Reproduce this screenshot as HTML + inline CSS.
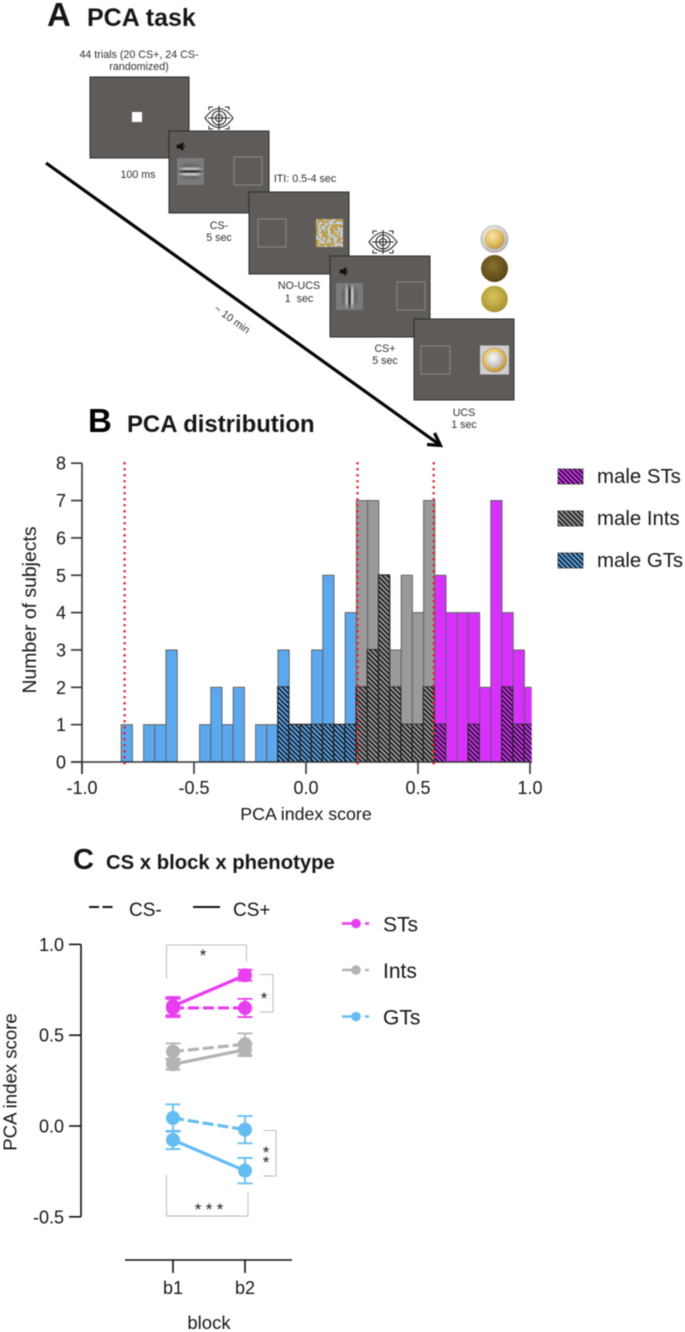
<!DOCTYPE html>
<html lang="en">
<head>
<meta charset="utf-8">
<title>PCA task, distribution and CS x block x phenotype</title>
<style>
html,body{margin:0;padding:0;background:#fff;}
body{width:685px;height:1332px;overflow:hidden;}
svg{display:block;font-family:"Liberation Sans",Arial,sans-serif;filter:blur(0.4px);}
.small{font-size:10.700px;fill:#2e2e2e;text-anchor:middle;}
.title{font-weight:bold;fill:#161616;}
.lab{font-size:18px;fill:#161616;}
.screen{fill:#5f5b58;stroke:#2e2e2e;stroke-width:1;}
.box{fill:none;stroke:#8b8784;stroke-width:1;}
.eye{fill:none;stroke:#2b2b2b;stroke-width:1.1;}
.brk{fill:none;stroke:#bdbdbd;stroke-width:1;}
</style>
</head>
<body>
<svg id="fig" width="685" height="1332" viewBox="0 0 685 1332" xmlns="http://www.w3.org/2000/svg">
<defs>
  <pattern id="hatch" patternUnits="userSpaceOnUse" width="3.4" height="3.4" patternTransform="rotate(45)">
    <rect x="0" y="0" width="3.4" height="1.500" fill="#111"/>
  </pattern>
  <linearGradient id="stripeH" x1="0" y1="0" x2="0" y2="1">
    <stop offset="0.14" stop-color="#7b7b7b"/><stop offset="0.3" stop-color="#5f5f5f"/><stop offset="0.41" stop-color="#d4d4d4"/>
    <stop offset="0.5" stop-color="#0c0c0c"/><stop offset="0.59" stop-color="#e0e0e0"/><stop offset="0.7" stop-color="#5f5f5f"/><stop offset="0.86" stop-color="#7b7b7b"/>
  </linearGradient>
  <linearGradient id="stripeV" x1="0" y1="0" x2="1" y2="0">
    <stop offset="0.14" stop-color="#7b7b7b"/><stop offset="0.3" stop-color="#5f5f5f"/><stop offset="0.41" stop-color="#d4d4d4"/>
    <stop offset="0.5" stop-color="#0c0c0c"/><stop offset="0.59" stop-color="#e0e0e0"/><stop offset="0.7" stop-color="#5f5f5f"/><stop offset="0.86" stop-color="#7b7b7b"/>
  </linearGradient>
  <radialGradient id="softEdge" cx="0.5" cy="0.5" r="0.5"><stop offset="0.45" stop-color="#fff"/><stop offset="1" stop-color="#000"/></radialGradient>
  <mask id="gaborMask" maskContentUnits="objectBoundingBox" x="0" y="0" width="1" height="1"><rect x="0" y="0" width="1" height="1" fill="url(#softEdge)"/></mask>
  <radialGradient id="silverCoin" cx="0.4" cy="0.35" r="0.7"><stop offset="0" stop-color="#fbfbfb"/><stop offset="1" stop-color="#b5b5b5"/></radialGradient>
  <radialGradient id="goldCoin" cx="0.4" cy="0.35" r="0.75"><stop offset="0" stop-color="#fbe7a4"/><stop offset="0.6" stop-color="#deb85c"/><stop offset="1" stop-color="#b0862f"/></radialGradient>
  <radialGradient id="bronzeCoin" cx="0.45" cy="0.4" r="0.7"><stop offset="0" stop-color="#8a7030"/><stop offset="0.8" stop-color="#5c4815"/><stop offset="1" stop-color="#3b2e0c"/></radialGradient>
  <radialGradient id="brassCoin" cx="0.45" cy="0.4" r="0.7"><stop offset="0" stop-color="#d8c45e"/><stop offset="0.8" stop-color="#ad962f"/><stop offset="1" stop-color="#73621a"/></radialGradient>
  <filter id="marble" x="0" y="0" width="1" height="1" color-interpolation-filters="sRGB">
    <feTurbulence type="fractalNoise" baseFrequency="0.32" numOctaves="2" seed="4" result="n"/>
    <feColorMatrix in="n" type="matrix" values="0 0 0 0 0.76  0 0 0 0 0.60  0 0 0 0 0.22  9 0 0 0 -3.900"/>
  </filter>
  <clipPath id="histClip"><rect x="82" y="440" width="449.7" height="322"/></clipPath>
</defs>

<!-- Panel A -->
<g>
  <text x="47" y="26" class="title" font-size="33">A</text>
  <text x="87" y="26" class="title" font-size="25">PCA task</text>
  <text x="139" y="58" class="small">44 trials (20 CS+, 24 CS-</text>
  <text x="139" y="70" class="small">randomized)</text>

  <g>
    <rect x="90" y="77" width="99" height="81" class="screen"/>
    <rect x="132" y="112" width="10" height="10" fill="#fff"/>
  </g>
  <text x="138" y="178" class="small">100 ms</text>

  <g class="eye" transform="translate(219,118)">
    <path d="M-14,0 Q0,-19 14,0 Q0,19 -14,0Z"/><circle r="7"/><circle r="3.5"/><path d="M0,-12V12M-11,0H11"/>
    <path d="M-10,-8V-11H-6M6,-11H10V-8M-10,8V11H-6M6,11H10V8"/>
  </g>

  <g>
    <rect x="169" y="131" width="100" height="82" class="screen"/>
    <path d="M177,145h2.5l3.5,-2.5v8l-3.5,-2.5h-2.5zM184.5,145v3" fill="#111" stroke="#111" stroke-width="0.7"/>
    <rect x="177" y="158" width="27" height="27" fill="#7b7b7b"/>
    <rect x="177" y="158" width="27" height="27" fill="url(#stripeH)" mask="url(#gaborMask)"/>
    <rect x="234" y="157" width="28" height="28" class="box"/>
  </g>
  <text x="219" y="229" class="small">CS-</text>
  <text x="219" y="241" class="small">5 sec</text>
  <text x="305" y="182" class="small">ITI: 0.5-4 sec</text>

  <g>
    <rect x="249" y="192" width="100" height="82" class="screen"/>
    <rect x="258" y="219" width="28" height="28" class="box"/>
    <rect x="316" y="219" width="27" height="28" fill="#bcd2ea"/>
    <rect x="316" y="219" width="27" height="28" filter="url(#marble)"/>
  </g>
  <text x="299" y="289" class="small">NO-UCS</text>
  <text x="299" y="302" class="small" xml:space="preserve">1  sec</text>

  <g class="eye" transform="translate(383,242)">
    <path d="M-14,0 Q0,-19 14,0 Q0,19 -14,0Z"/><circle r="7"/><circle r="3.5"/><path d="M0,-12V12M-11,0H11"/>
    <path d="M-10,-8V-11H-6M6,-11H10V-8M-10,8V11H-6M6,11H10V8"/>
  </g>

  <g>
    <rect x="330" y="256" width="100" height="81" class="screen"/>
    <path d="M340,270h2.5l3.5,-2.5v8l-3.5,-2.5h-2.5zM347.500,270v3" fill="#111" stroke="#111" stroke-width="0.7"/>
    <rect x="336" y="283" width="27" height="27" fill="#7b7b7b"/>
    <rect x="336" y="283" width="27" height="27" fill="url(#stripeV)" mask="url(#gaborMask)"/>
    <rect x="397" y="282" width="28" height="28" class="box"/>
  </g>
  <text x="385" y="352" class="small">CS+</text>
  <text x="385" y="364" class="small">5 sec</text>

  <g>
    <g>
      <circle cx="494.500" cy="239" r="13.5" fill="url(#silverCoin)" stroke="#999" stroke-width="0.6"/>
      <circle cx="494.500" cy="239" r="10" fill="url(#goldCoin)"/>
    </g>
    <circle cx="494.500" cy="268.500" r="13.5" fill="url(#bronzeCoin)"/>
    <circle cx="494.500" cy="299" r="13.300" fill="url(#brassCoin)"/>
  </g>

  <g>
    <rect x="414" y="319" width="100" height="81" class="screen"/>
    <rect x="421" y="346" width="29" height="28" class="box"/>
    <rect x="480" y="345.500" width="29" height="29" fill="#cfcfcf"/>
    <circle cx="494.500" cy="360" r="12" fill="url(#goldCoin)" stroke="#a98a45" stroke-width="0.6"/>
    <circle cx="494.500" cy="360" r="8" fill="url(#silverCoin)"/>
  </g>
  <text x="464" y="416" class="small">UCS</text>
  <text x="464" y="428" class="small">1 sec</text>

  <g>
    <line x1="46" y1="163" x2="440" y2="445" stroke="#050505" stroke-width="3.200"/>
    <path d="M427,444.500 L440.500,445.500 L434.500,433" fill="none" stroke="#050505" stroke-width="3.200"/>
  </g>
  <text x="0" y="0" class="small" transform="translate(230,322) rotate(35.500)">~ 10 min</text>
</g>

<!-- Panel B -->
<g>
  <text x="88" y="432" class="title" font-size="33" style="fill:#000">B</text>
  <text x="127" y="432" class="title" font-size="23.900">PCA distribution</text>
  <text transform="translate(36,610) rotate(-90)" text-anchor="middle" class="lab" style="font-size:19.400px">Number of subjects</text>
  <text x="306" y="820" text-anchor="middle" class="lab" style="font-size:17.800px">PCA index score</text>
  <g id="histBars" clip-path="url(#histClip)"></g>
  <g id="histAxes"></g>
  <g id="histCut"></g>
  <g id="histLegend"></g>
</g>

<!-- Panel C -->
<g>
  <text x="73" y="869" class="title" font-size="29">C</text>
  <text x="106" y="869" class="title" font-size="20.300">CS x block x phenotype</text>
  <g>
    <line x1="89" y1="907" x2="115" y2="907" stroke="#111" stroke-width="2" stroke-dasharray="10 3.500"/>
    <text x="129" y="916" class="lab" style="font-size:19px">CS-</text>
    <line x1="193" y1="907" x2="220" y2="907" stroke="#111" stroke-width="2"/>
    <text x="233" y="916" class="lab" style="font-size:19px">CS+</text>
  </g>
  <text transform="translate(16.500,1082) rotate(-90)" text-anchor="middle" class="lab" style="font-size:18.600px">PCA index score</text>
  <text x="209" y="1329" text-anchor="middle" class="lab" style="font-size:18.500px">block</text>
  <g>
    <path class="brk" d="M166.500,979V945H246.500V961.500"/>
    <text x="203" y="961" font-size="17" text-anchor="middle" fill="#222">*</text>
    <path class="brk" d="M260,974.500H273V1012H260"/>
    <text x="264" y="1004" font-size="17" text-anchor="middle" fill="#222">*</text>
    <path class="brk" d="M263,1130.500H276V1176H263"/>
    <text x="266" y="1158" font-size="17" text-anchor="middle" fill="#222">*</text>
    <text x="266" y="1168" font-size="17" text-anchor="middle" fill="#222">*</text>
    <path class="brk" d="M166.500,1175V1216H248V1193"/>
    <text x="198" y="1215" font-size="17" text-anchor="middle" fill="#222">*</text>
    <text x="209" y="1215" font-size="17" text-anchor="middle" fill="#222">*</text>
    <text x="220" y="1215" font-size="17" text-anchor="middle" fill="#222">*</text>
  </g>
  <g id="lineAxes"></g>
  <g id="lineMarks"></g>
  <g id="lineLegend"></g>
</g>
</svg>

<script>
/* Histogram data */
var binCenters = [-0.8,-0.75,-0.7,-0.65,-0.6,-0.55,-0.5,-0.45,-0.4,-0.35,-0.3,-0.25,-0.2,-0.15,-0.1,-0.05,0,0.05,0.1,0.15,0.2,0.25,0.3,0.35,0.4,0.45,0.5,0.55,0.6,0.65,0.7,0.75,0.8,0.85,0.9,0.95,1.0];
var gtCounts   = [1,0,1,1,3,0,0,1,2,1,2,0,1,1,3,1,1,3,5,1,4,0,0,0,0,0,0,0,0,0,0,0,0,0,0,0,0];
var intCounts  = [0,0,0,0,0,0,0,0,0,0,0,0,0,0,0,0,0,0,0,0,0,7,7,5,3,5,4,7,0,0,0,0,0,0,0,0,0];
var stCounts   = [0,0,0,0,0,0,0,0,0,0,0,0,0,0,0,0,0,0,0,0,0,0,0,0,0,0,0,0,5,4,4,4,2,7,4,3,2];
var maleCounts = [0,0,0,0,0,0,0,0,0,0,0,0,0,0,2,1,1,1,1,1,1,2,3,5,2,1,1,2,1,0,0,1,0,0,2,1,1];
var cutoffs = [-0.81,0.23,0.57];
var histXTicks = [-1.0,-0.5,0.0,0.5,1.0];
var histYTicks = [0,1,2,3,4,5,6,7,8];
var histLegendLabels = ["male STs","male Ints","male GTs"];

/* Line chart data: index 0 = b1, index 1 = b2 */
var blocks = ["b1","b2"];
var stMinus = [0.65,0.65];
var stMinusErr = [0.05,0.05];
var stPlus = [0.66,0.83];
var stPlusErr = [0.05,0.03];
var intMinus = [0.41,0.45];
var intMinusErr = [0.045,0.06];
var intPlus = [0.34,0.42];
var intPlusErr = [0.03,0.035];
var gtMinus = [0.044,-0.02];
var gtMinusErr = [0.075,0.075];
var gtPlus = [-0.077,-0.246];
var gtPlusErr = [0.05,0.07];
var lineYTicks = [1.0,0.5,0.0,-0.5];
var phenotypeLabels = ["STs","Ints","GTs"];

var NS = "http://www.w3.org/2000/svg";
function mk(parent, tag, attrs, text) {
  var el = document.createElementNS(NS, tag);
  for (var k in attrs) { el.setAttribute(k, attrs[k]); }
  if (text !== undefined) { el.textContent = text; }
  parent.appendChild(el);
  return el;
}
function histX(v) { return 306 + v * 224; }
function histY(v) { return 762 - v * 37.35; }
var binW = 0.05 * 224;

var histBars = document.getElementById("histBars");
function drawBars(values, fill, name) {
  values.forEach(function (v, i) {
    if (!v) { return; }
    var el = mk(histBars, "rect", {
      x: histX(binCenters[i]) - binW / 2, y: histY(v), width: binW, height: histY(0) - histY(v),
      fill: fill, stroke: "#636363", "stroke-width": 1
    });
    
    
  });
}
drawBars(gtCounts, "#5aa9f0", "gt");
drawBars(intCounts, "#9a9a9a", "int");
drawBars(stCounts, "#d930ff", "st");
maleCounts.forEach(function (v, i) {
  if (!v) { return; }
  var el = mk(histBars, "rect", {
    x: histX(binCenters[i]) - binW / 2 - 0.5, y: histY(v) - 0.5, width: binW, height: histY(0) - histY(v) + 0.5,
    fill: "url(#hatch)", stroke: "#222", "stroke-width": 0.8
  });
  
  
});

var histAxes = document.getElementById("histAxes");
var axisColor = "#333";
var hy = mk(histAxes, "line", {x1: 82, x2: 82, y1: histY(8), y2: 774, stroke: axisColor, "stroke-width": 1.6});


var hx = mk(histAxes, "line", {x1: 71, x2: 532, y1: histY(0), y2: histY(0), stroke: axisColor, "stroke-width": 1.6});


histYTicks.forEach(function (t) {
  var tick = mk(histAxes, "line", {x1: 71, x2: 82, y1: histY(t), y2: histY(t), stroke: axisColor, "stroke-width": 1.6});
  
  
  var lab = mk(histAxes, "text", {x: 66, y: histY(t) + 6.5, "text-anchor": "end", "class": "lab"}, String(t));
  
  
});
histXTicks.forEach(function (t) {
  var tick = mk(histAxes, "line", {x1: histX(t), x2: histX(t), y1: histY(0), y2: 774, stroke: axisColor, "stroke-width": 1.6});
  
  
  var lab = mk(histAxes, "text", {x: histX(t), y: 794, "text-anchor": "middle", "class": "lab"}, t.toFixed(1));
  
  
});

var histCut = document.getElementById("histCut");
cutoffs.forEach(function (c) {
  var el = mk(histCut, "line", {
    x1: histX(c), x2: histX(c), y1: histY(8), y2: 765, stroke: "#f01a28", "stroke-width": 2.5,
    "stroke-linecap": "round", "stroke-dasharray": "0.1 5.9"
  });
  
  
});

var histLegend = document.getElementById("histLegend");
var swatchFills = ["#d930ff", "#9a9a9a", "#5aa9f0"];
histLegendLabels.forEach(function (name, i) {
  var top = 469 + i * 42;
  var a = mk(histLegend, "rect", {x: 558, y: top, width: 25, height: 15, fill: swatchFills[i], stroke: "#666", "stroke-width": 1});
  
  
  var b = mk(histLegend, "rect", {x: 558, y: top, width: 25, height: 15, fill: "url(#hatch)"});
  
  
  var t = mk(histLegend, "text", {x: 597, y: top + 14, "class": "lab", style: "font-size:20.400px"}, name);
  
  
});

/* Line chart */
function lineX(i) { return 173 + i * 72; }
function lineY(v) { return 1126 - v * 181.6; }
var lineAxes = document.getElementById("lineAxes");
var ly = mk(lineAxes, "line", {x1: 81, x2: 81, y1: lineY(1), y2: lineY(-0.5), stroke: "#111", "stroke-width": 1.6});


lineYTicks.forEach(function (t) {
  var tick = mk(lineAxes, "line", {x1: 69, x2: 81, y1: lineY(t), y2: lineY(t), stroke: "#111", "stroke-width": 1.6});
  
  
  var lab = mk(lineAxes, "text", {x: 64, y: lineY(t) + 6.5, "text-anchor": "end", "class": "lab"}, t.toFixed(1));
  
  
});
var lx = mk(lineAxes, "line", {x1: 125, x2: 292, y1: 1260, y2: 1260, stroke: "#111", "stroke-width": 1.6});


blocks.forEach(function (b, i) {
  var tick = mk(lineAxes, "line", {x1: lineX(i), x2: lineX(i), y1: 1260, y2: 1273, stroke: "#111", "stroke-width": 1.6});
  
  
  var lab = mk(lineAxes, "text", {x: lineX(i), y: 1294, "text-anchor": "middle", "class": "lab"}, b);
  
  
});

var lineMarks = document.getElementById("lineMarks");
function drawSeries(vals, errs, color, dashed, name) {
  var g = mk(lineMarks, "g", {});
  
  
  var attrs = {x1: lineX(0), y1: lineY(vals[0]), x2: lineX(1), y2: lineY(vals[1]), stroke: color, "stroke-width": 3.2};
  if (dashed) { attrs["stroke-dasharray"] = "11 4"; }
  var line = mk(g, "line", attrs);
  
  
  vals.forEach(function (v, i) {
    var x = lineX(i), hi = lineY(v + errs[i]), lo = lineY(v - errs[i]);
    var err = mk(g, "path", {
      d: "M" + (x - 7.5) + "," + hi + "H" + (x + 7.5) + "M" + x + "," + hi + "V" + lo + "M" + (x - 7.5) + "," + lo + "H" + (x + 7.5),
      fill: "none", stroke: color, "stroke-width": 1.8
    });
    
    
    var pt = mk(g, "circle", {cx: x, cy: lineY(v), r: 7, fill: color});
    
    
  });
}
var cSt = "#e83df0", cInt = "#b3b3b3", cGt = "#63bdf2";
drawSeries(stMinus, stMinusErr, cSt, true, "st-cs-minus");
drawSeries(stPlus, stPlusErr, cSt, false, "st-cs-plus");
drawSeries(intMinus, intMinusErr, cInt, true, "int-cs-minus");
drawSeries(intPlus, intPlusErr, cInt, false, "int-cs-plus");
drawSeries(gtMinus, gtMinusErr, cGt, true, "gt-cs-minus");
drawSeries(gtPlus, gtPlusErr, cGt, false, "gt-cs-plus");

var lineLegend = document.getElementById("lineLegend");
var legendColors = [cSt, cInt, cGt];
phenotypeLabels.forEach(function (name, i) {
  var y = 923.5 + i * 46.5;
  var ln = mk(lineLegend, "path", {d: "M342,"+y+"H360M365,"+y+"H369", stroke: legendColors[i], "stroke-width": 2.4, fill: "none"});
  
  
  var pt = mk(lineLegend, "circle", {cx: 356, cy: y, r: 4.8, fill: legendColors[i]});
  
  
  var t = mk(lineLegend, "text", {x: 383, y: y + 8, "class": "lab", style: "font-size:21px"}, name);
  
  
});
</script>
</body>
</html>
